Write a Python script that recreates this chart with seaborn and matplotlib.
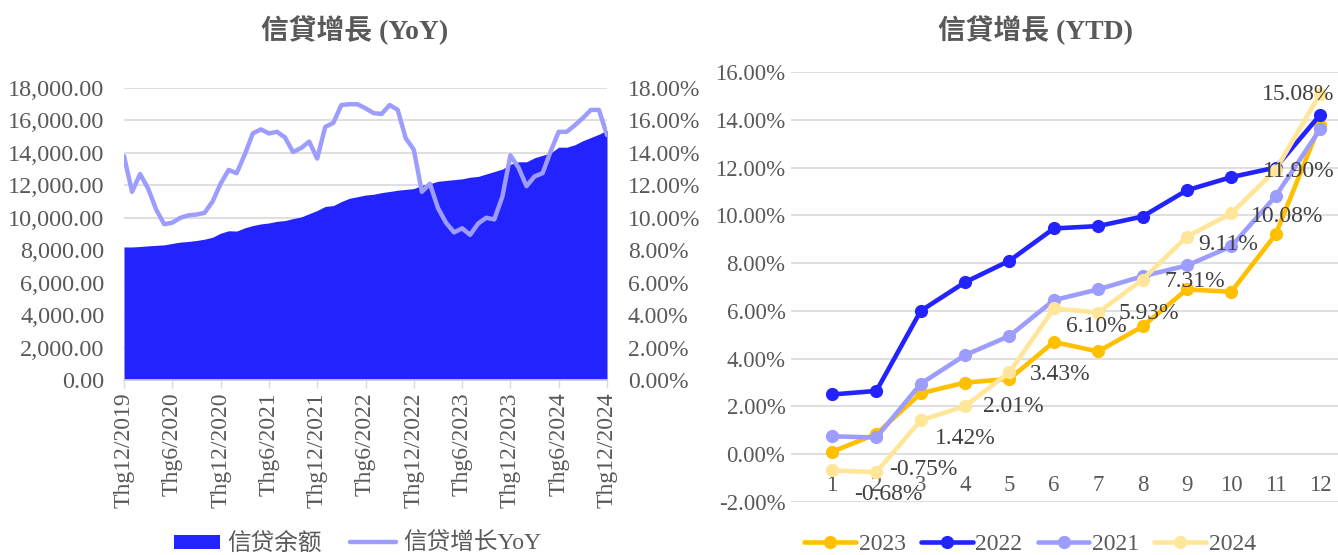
import numpy as np
import pandas as pd
import matplotlib
matplotlib.use("Agg")
import matplotlib.pyplot as plt
import seaborn as sns
from matplotlib.ticker import FuncFormatter, FixedLocator
from matplotlib.patches import Patch
from matplotlib.lines import Line2D

sns.set_theme(style="white")
plt.rcParams["font.family"] = ["Liberation Serif", "Noto Sans CJK SC"]

# ---------------- data ----------------
# Left chart: monthly, Dec 2019 .. Dec 2024
balance = [8200, 8200, 8230, 8270, 8300, 8330, 8420, 8500, 8540, 8600,
           8680, 8800, 9050, 9200, 9180, 9380, 9520, 9620, 9680, 9780,
           9830, 9950, 10050, 10250, 10450, 10700, 10750, 11000, 11200, 11300,
           11400, 11450, 11550, 11620, 11700, 11750, 11800, 12000, 12100, 12250,
           12300, 12350, 12400, 12500, 12550, 12700, 12850, 13000, 13300, 13450,
           13450, 13700, 13850, 14000, 14350, 14350, 14500, 14750, 14950, 15150,
           15400]
yoy = [13.8, 11.6, 12.7, 11.8, 10.5, 9.6, 9.7, 10.0, 10.15, 10.2,
       10.3, 11.0, 12.1, 12.95, 12.75, 13.9, 15.2, 15.45, 15.2, 15.3,
       14.95, 14.05, 14.3, 14.7, 13.65, 15.6, 15.85, 16.95, 17.0, 17.0,
       16.75, 16.45, 16.4, 16.95, 16.65, 14.9, 14.2, 11.6, 12.1, 10.6,
       9.7, 9.1, 9.35, 8.95, 9.65, 10.0, 9.9, 11.3, 13.85, 13.1,
       11.95, 12.55, 12.75, 14.1, 15.3, 15.3, 15.7, 16.15, 16.65, 16.65,
       15.1]
xtick_labels = ["Thg12/2019", "Thg6/2020", "Thg12/2020", "Thg6/2021", "Thg12/2021",
                "Thg6/2022", "Thg12/2022", "Thg6/2023", "Thg12/2023", "Thg6/2024",
                "Thg12/2024"]
left_series_names = ["信贷余额", "信贷增长YoY"]

# Right chart: YTD credit growth (%) by month
months = list(range(1, 13))
ytd_2023 = [0.10, 0.85, 2.55, 3.00, 3.15, 4.70, 4.30, 5.35, 6.90, 6.80, 9.20, 13.80]
ytd_2022 = [2.50, 2.65, 6.00, 7.20, 8.10, 9.45, 9.55, 9.95, 11.05, 11.60, 12.00, 14.20]
ytd_2021 = [0.75, 0.70, 2.95, 4.15, 4.95, 6.45, 6.90, 7.45, 7.90, 8.70, 10.80, 13.60]
ytd_2024 = [-0.68, -0.75, 1.42, 2.01, 3.43, 6.10, 5.93, 7.31, 9.11, 10.08, 11.90, 15.08]
years = ["2023", "2022", "2021", "2024"]

# ---------------- style ----------------
BLUE = "#2323FF"
PURPLE = "#9D9DFF"
GOLD = "#FFC000"
LIGHTY = "#FFE699"
GREY = "#595959"
GRID = "#D9D9D9"
palette = {"2023": GOLD, "2022": BLUE, "2021": PURPLE, "2024": LIGHTY}

W, H = 1338, 555
fig = plt.figure(figsize=(W / 100, H / 100), dpi=100)


def rect(x0, y0, x1, y1):
    return [x0 / W, 1 - y1 / H, (x1 - x0) / W, (y1 - y0) / H]


# ---------------- left chart ----------------
ax1 = fig.add_axes(rect(124, 88, 607, 380))
idx = np.arange(len(balance))
ax1.fill_between(idx, balance, 0, color=BLUE, lw=0, zorder=2)
ax1.set_xlim(0, len(balance) - 1)
ax1.set_ylim(0, 18000)
ax1.yaxis.set_major_locator(FixedLocator(np.arange(0, 18001, 2000)))
ax1.yaxis.set_major_formatter(FuncFormatter(lambda v, p: f"{v:,.2f}"))
ax1.set_xticks(np.arange(0, len(balance), 6))
ax1.set_xticklabels(xtick_labels, rotation=90)
ax1.tick_params(axis="y", length=0, pad=14, labelsize=17.5, labelcolor=GREY)
ax1.tick_params(axis="x", length=6, width=1, color=GRID, pad=3, labelsize=17,
                labelcolor=GREY, bottom=True)
for s in ["top", "right", "left"]:
    ax1.spines[s].set_visible(False)
ax1.spines["bottom"].set_color(GRID)
ax1.spines["bottom"].set_linewidth(1.2)
ax1.grid(axis="y", color=GRID, lw=1.2, zorder=0)
ax1.set_axisbelow(True)
ax1.set_xlabel("")
ax1.set_ylabel("")

ax1r = ax1.twinx()
sns.lineplot(x=idx, y=yoy, ax=ax1r, color=PURPLE, lw=3.2, zorder=3)
ax1r.set_ylim(0, 18)
ax1r.yaxis.set_major_locator(FixedLocator(np.arange(0, 18.01, 2)))
ax1r.yaxis.set_major_formatter(FuncFormatter(lambda v, p: f"{v:.2f}%"))
ax1r.tick_params(axis="y", length=0, pad=15, labelsize=17, labelcolor=GREY)
for s in ["top", "right", "left", "bottom"]:
    ax1r.spines[s].set_visible(False)
ax1r.set_xlabel("")
ax1r.set_ylabel("")

fig.text(355 / W, 1 - 30 / H, "信貸增長 (YoY)", ha="center", va="center",
         fontsize=20, fontweight="bold", color=GREY)

left_handles = [Patch(facecolor=BLUE, edgecolor="none"),
                Line2D([0], [0], color=PURPLE, lw=3.2)]
fig.legend(left_handles, left_series_names, loc="center",
           bbox_to_anchor=(358 / W, 1 - 544 / H), ncol=2, frameon=False,
           fontsize=17, labelcolor=GREY, handlelength=1.95, handleheight=0.55,
           columnspacing=1.2, handletextpad=0.3)

# ---------------- right chart ----------------
ax2 = fig.add_axes(rect(791, 72, 1338, 502))
df = pd.DataFrame({
    "month": months * 4,
    "value": ytd_2023 + ytd_2022 + ytd_2021 + ytd_2024,
    "year": sum([[y] * 12 for y in years], []),
})
sns.lineplot(data=df, x="month", y="value", hue="year", hue_order=years,
             palette=palette, marker="o", markersize=9.5, markeredgewidth=0,
             lw=3.3, ax=ax2, legend=False)
ax2.set_xlim(1 - 41 / 44.36, 12 + 18 / 44.36)
ax2.set_ylim(-2, 16)
ax2.yaxis.set_major_locator(FixedLocator(np.arange(-2, 16.01, 2)))
ax2.yaxis.set_major_formatter(FuncFormatter(lambda v, p: f"{v:.2f}%"))
ax2.set_xticks(months)
ax2.set_xticklabels([str(m) for m in months])
ax2.spines["bottom"].set_position(("data", 0))
for s in ["top", "right", "left", "bottom"]:
    ax2.spines[s].set_visible(False)
ax2.tick_params(axis="y", length=0, pad=4, labelsize=16.5, labelcolor=GREY)
ax2.tick_params(axis="x", length=0, pad=15, labelsize=16.5, labelcolor=GREY)
ax2.grid(axis="y", color=GRID, lw=1.2, zorder=0)
ax2.set_axisbelow(True)
ax2.set_xlabel("")
ax2.set_ylabel("")

# data labels for 2024 (pixel offsets, style only)
label_offsets = [(56, -24), (47, 3), (45, -18), (48, 0), (51, -2), (42, -18),
                 (51, -1), (52, -2), (41, -8), (56, -3), (23, -2), (-22, -1)]
for m, v, off in zip(months, ytd_2024, label_offsets):
    ax2.annotate(f"{v:.2f}%", (m, v), xytext=off, textcoords="offset pixels",
                 ha="center", va="center", fontsize=17, color="#404040", zorder=6)

fig.text(1035 / W, 1 - 30 / H, "信貸增長 (YTD)", ha="center", va="center",
         fontsize=20, fontweight="bold", color=GREY)

right_handles = [Line2D([0], [0], color=palette[y], lw=3.3, marker="o",
                        markersize=9.5, markeredgewidth=0) for y in years]
fig.legend(right_handles, years, loc="center",
           bbox_to_anchor=(1030 / W, 1 - 544 / H), ncol=4, frameon=False,
           fontsize=17, labelcolor=GREY, handlelength=2.2, columnspacing=0.65,
           handletextpad=0.1)

fig.savefig("out.png", dpi=100)
